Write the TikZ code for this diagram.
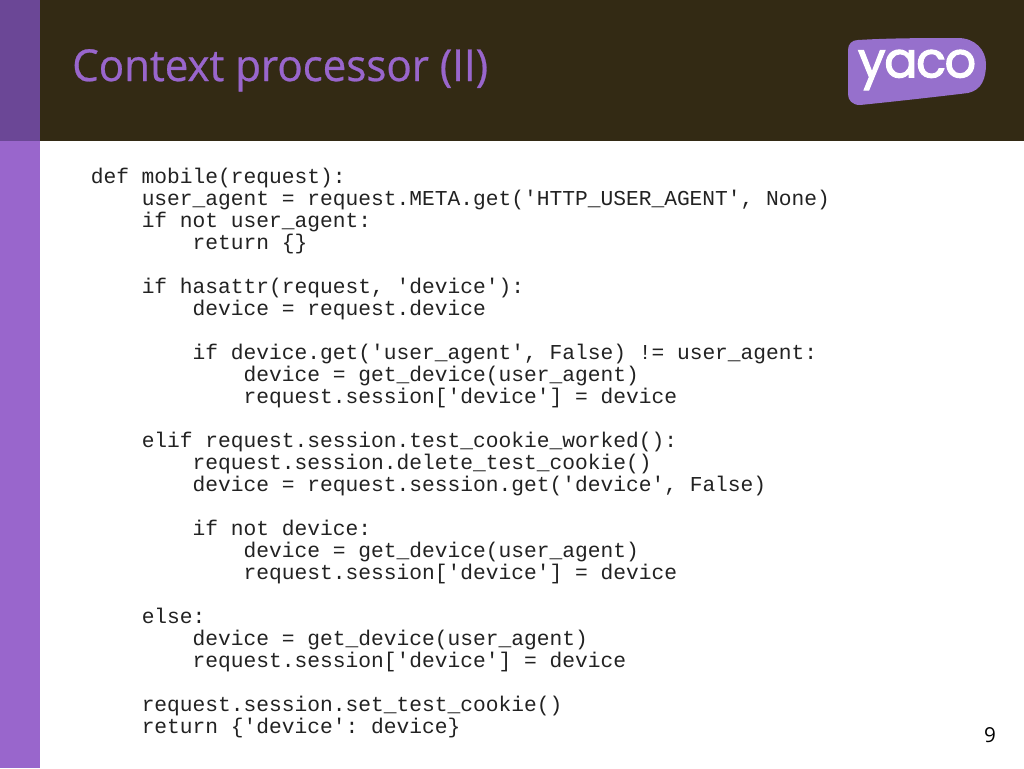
\documentclass[tikz,border=0pt]{standalone}
\usepackage{fontspec}
\setmainfont{Open Sans}
\setmonofont{Liberation Mono}
\newfontfamily\logofont[FakeBold=2.2,LetterSpace=-3]{Poppins}
\newfontfamily\titlefont[FakeStretch=0.955,FakeBold=0.6]{Open Sans}
\definecolor{hdr}{HTML}{332A14}
\definecolor{barTop}{HTML}{6B4796}
\definecolor{barLow}{HTML}{9966CC}
\definecolor{logoFill}{HTML}{9670CC}
\definecolor{codeInk}{HTML}{222222}
\newcommand{\ind}[1]{\hspace*{#1\dimexpr 9.56pt\relax}}
\tikzset{
  titletext/.style={anchor=base west,inner sep=0pt,text=barLow,font=\titlefont\fontsize{33}{36}\selectfont},
  codetext/.style={anchor=base west,inner sep=0pt,align=left,text=codeInk,font=\fontsize{15.93}{16.5}\ttfamily},
  numtext/.style={anchor=base,inner sep=0pt,text=black,font=\fontsize{15.5}{18}\selectfont},
  logotext/.style={anchor=center,inner sep=0pt,text=white,font=\logofont\fontsize{37}{38}\selectfont}
}
\begin{document}
\begin{tikzpicture}[x=0.75pt,y=-0.75pt]
\useasboundingbox (0,0) rectangle (1024,768);
\fill[white] (0,0) rectangle (1024,768);
\fill[hdr] (40,0) rectangle (1024,141);
\fill[barTop] (0,0) rectangle (40,141);
\fill[barLow] (0,141) rectangle (40,768);
\node[titletext] (title) at (72,81) {Context processor (II)};
\fill[logoFill] (858,40) .. controls (890,38) and (930,38) .. (958,38)
  .. controls (975,38) and (986,50) .. (986,64)
  .. controls (986,78) and (982,90) .. (968,93)
  .. controls (935,97) and (890,102) .. (860,105)
  .. controls (852,105) and (848,100) .. (848,94)
  -- (848,50) .. controls (848,44) and (852,40) .. (858,40) -- cycle;
\node[logotext] (logo) at (917,70) {yaco};
\node[codetext] (code) at (90.5,733) {def mobile(request):\\
\ind{4}user\_agent = request.META.get('HTTP\_USER\_AGENT', None)\\
\ind{4}if not user\_agent:\\
\ind{8}return \{\}\\
\mbox{}\\
\ind{4}if hasattr(request, 'device'):\\
\ind{8}device = request.device\\
\mbox{}\\
\ind{8}if device.get('user\_agent', False) != user\_agent:\\
\ind{12}device = get\_device(user\_agent)\\
\ind{12}request.session['device'] = device\\
\mbox{}\\
\ind{4}elif request.session.test\_cookie\_worked():\\
\ind{8}request.session.delete\_test\_cookie()\\
\ind{8}device = request.session.get('device', False)\\
\mbox{}\\
\ind{8}if not device:\\
\ind{12}device = get\_device(user\_agent)\\
\ind{12}request.session['device'] = device\\
\mbox{}\\
\ind{4}else:\\
\ind{8}device = get\_device(user\_agent)\\
\ind{8}request.session['device'] = device\\
\mbox{}\\
\ind{4}request.session.set\_test\_cookie()\\
\ind{4}return \{'device': device\}};
\node[numtext] (num) at (990,742) {9};
\end{tikzpicture}
\end{document}
